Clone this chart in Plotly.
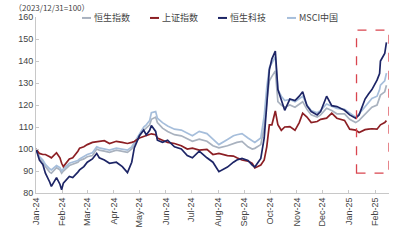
import plotly.graph_objects as go

dates = ["2024-01-01","2024-01-05","2024-01-09","2024-01-12","2024-01-17","2024-01-19","2024-01-25","2024-01-29","2024-01-31",
"2024-02-02","2024-02-09","2024-02-13","2024-02-19","2024-02-21","2024-02-26","2024-03-01","2024-03-07","2024-03-12","2024-03-15",
"2024-03-21","2024-03-27","2024-04-04","2024-04-11","2024-04-17","2024-04-22","2024-04-25","2024-05-01","2024-05-06","2024-05-09",
"2024-05-13","2024-05-15","2024-05-20","2024-05-22","2024-05-28","2024-06-03","2024-06-11","2024-06-19","2024-06-26","2024-07-02",
"2024-07-10","2024-07-19","2024-07-26","2024-08-02","2024-08-12","2024-08-19","2024-08-23","2024-08-29","2024-09-05","2024-09-10",
"2024-09-13","2024-09-20","2024-09-24","2024-09-27","2024-09-30","2024-10-03","2024-10-07","2024-10-10","2024-10-14","2024-10-18",
"2024-10-24","2024-10-30","2024-11-04","2024-11-08","2024-11-13","2024-11-18","2024-11-25","2024-11-29","2024-12-06","2024-12-12",
"2024-12-18","2024-12-27","2025-01-02","2025-01-09","2025-01-13","2025-01-20","2025-01-24","2025-01-28","2025-02-03","2025-02-06",
"2025-02-07","2025-02-12","2025-02-14"]

hstech = [100,95,93,89,85,83,87,84,81.5,84.5,87.5,87,89.5,90.5,92,94,95.5,98,96,95,93.5,94,92,89.3,94,100.5,106,108.6,106.4,
108.5,110.7,108,104,103,104,101,100,97,96,99,96,94,89.7,91.8,94,95,95.7,94.8,92.7,91.8,95.7,105,120,136,141,144.5,127,122.7,
117.6,122.7,122,124,126,119.7,117,115.5,117,124,119.7,119.3,117.6,115.5,114,115.5,122.7,125,127,131.3,134.3,140,143.4,148.5]

sse = [100,98,97.5,97.5,96.5,96,98.3,96,93.5,92,95.5,96,99,100.4,101,102,103,103.4,103.5,103.8,102.5,103.5,103,102.5,103,103.4,
105,105.6,106,106.5,106.9,106.5,105,104,103,102.5,101.5,100,100.4,99.5,99.8,97.5,98,97,96.8,96,95,94.5,93.5,91.4,92.7,95,101,
111,111,117.3,111,108.5,110,110.2,108.5,112,116.3,114.5,112,112.5,113.5,114,116.3,114,113,109,108.6,107.5,108.8,109,109.2,109,
110.5,111,112,112.9]

msci = [100,96.5,95,93,91,90.5,92.5,91.5,90,91,93.5,94,94.8,95.5,96.5,97.5,98.3,101,100.5,100,99.5,100.4,100,99.5,101,103,107,
110,111,113,116.5,117,114,112,110.5,109,108.6,107,106,108,107,104.5,102,104.3,106,106.5,107,105,103.5,103,105,115,128,137,139,
142,127,124,122,122.5,121.5,123,124,120,117.5,116.5,117.5,120.5,119.5,118.5,118,116.5,114.5,116,119.5,121.5,123,124,127,129,131,
134.5]

hsi = [100,96,94.5,92,89.5,89,91.5,90.5,89,90,92.5,93,94,94.8,95.5,96.5,97,100,99.5,99,98.5,99.5,99,98.5,100,102,106,108.5,109.5,
111,113.5,114.5,112,109.5,108,106.5,106,104.5,103.5,104.5,103.5,101.5,100.5,101.5,102.5,103,103.5,101,100,100.3,102,110,122,131,
133,135.5,121.5,120,119,120,119,120.5,121.5,118,115.5,114.5,115.5,118.5,117.5,116,116,113.5,112,113,116,117.5,119,120,123,124.5,
126,129]

month_ticks = ["2024-01-01","2024-02-01","2024-03-01","2024-04-01","2024-05-01","2024-06-01","2024-07-01","2024-08-01",
"2024-09-01","2024-10-01","2024-11-01","2024-12-01","2025-01-01","2025-02-01"]
month_labels = ["Jan-24","Feb-24","Mar-24","Apr-24","May-24","Jun-24","Jul-24","Aug-24","Sep-24","Oct-24","Nov-24","Dec-24",
"Jan-25","Feb-25"]
y_ticks = [80, 90, 100, 110, 120, 130, 140, 150, 160]

names = ["恒生指数", "上证指数", "恒生科技", "MSCI中国"]
colors = ["#a9b2bf", "#8c1f24", "#1d2566", "#a6bedb"]
series = [hsi, sse, hstech, msci]

fig = go.Figure()
for idx in [0, 3, 1, 2]:
    fig.add_trace(go.Scatter(x=dates, y=series[idx], mode="lines", name=names[idx],
                             line=dict(color=colors[idx], width=1.7), showlegend=False))

W, H = 405, 240
ml, mr, mt, mb = 36, 16, 14, 41
pw, ph = W - ml - mr, H - mt - mb

def px(x):
    return (x - ml) / pw

def py(y):
    return (H - mb - y) / ph

shapes = []
annotations = []
leg_x = [82, 150, 218, 287]
for i, name in enumerate(names):
    shapes.append(dict(type="line", xref="paper", yref="paper", x0=px(leg_x[i]), x1=px(leg_x[i] + 9),
                       y0=py(15), y1=py(15), line=dict(color=colors[i], width=2)))
    annotations.append(dict(text=name, xref="paper", yref="paper", x=px(leg_x[i] + 10), y=py(15),
                            xanchor="left", yanchor="middle", showarrow=False,
                            font=dict(size=9, color="#444", family="Noto Sans CJK SC")))

annotations.append(dict(text="（2023/12/31=100）", xref="paper", yref="paper", x=px(12), y=py(4),
                        xanchor="left", yanchor="middle", showarrow=False,
                        font=dict(size=8, color="#444", family="Noto Sans CJK SC")))

shapes.append(dict(type="rect", xref="x", yref="y", x0="2025-01-10", x1="2025-02-17", y0=89, y1=154,
                   line=dict(color="#d9454f", width=1.3, dash="dash"), fillcolor="rgba(0,0,0,0)"))

fig.update_layout(
    width=W, height=H, margin=dict(l=ml, r=mr, t=mt, b=mb),
    paper_bgcolor="white", plot_bgcolor="white",
    font=dict(family="Liberation Sans, Arial", size=9, color="#444"),
    shapes=shapes, annotations=annotations, showlegend=False,
    xaxis=dict(range=["2024-01-01", "2025-02-17"], tickvals=month_ticks, ticktext=month_labels,
               tickangle=-90, showgrid=False, zeroline=False, showline=True, linecolor="#c8c8c8",
               linewidth=1, ticks="inside", ticklen=3, tickcolor="#c8c8c8", tickfont=dict(size=9)),
    yaxis=dict(range=[80, 160], tickvals=y_ticks, showgrid=False, zeroline=False, showline=True,
               linecolor="#c8c8c8", linewidth=1, ticks="inside", ticklen=3, tickcolor="#c8c8c8",
               tickfont=dict(size=9)),
)

fig.write_html("out.html")
